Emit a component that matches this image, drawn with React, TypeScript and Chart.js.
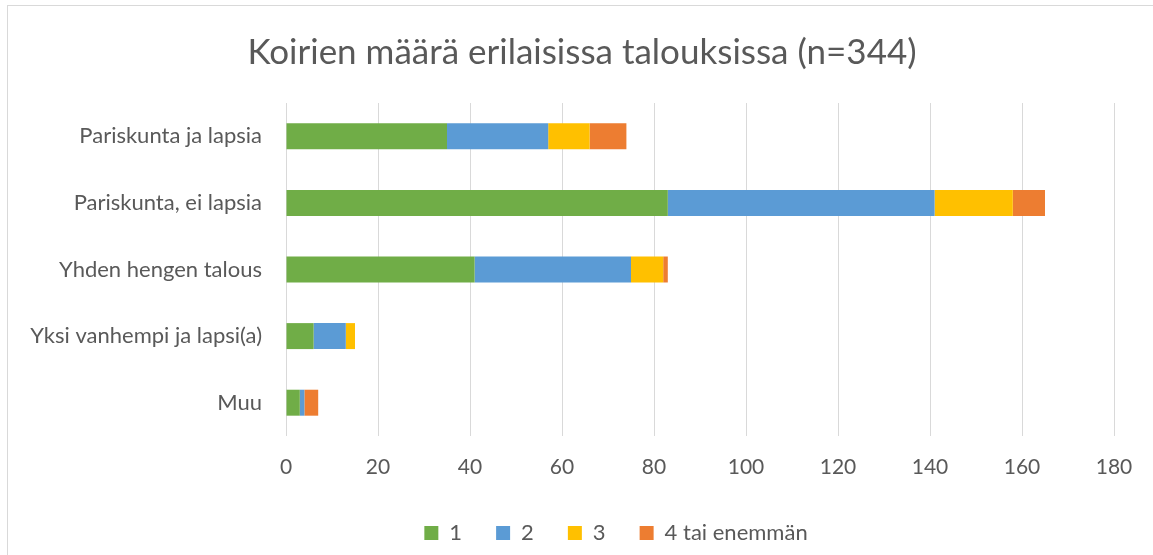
import React, { useEffect, useRef } from "react";
import { Chart, registerables } from "chart.js";

Chart.register(...registerables);

const categories = [
  "Pariskunta ja lapsia",
  "Pariskunta, ei lapsia",
  "Yhden hengen talous",
  "Yksi vanhempi ja lapsi(a)",
  "Muu",
];
const series1 = [35, 83, 41, 6, 3];
const series2 = [22, 58, 34, 7, 1];
const series3 = [9, 17, 7, 2, 0];
const series4 = [8, 7, 1, 0, 3];
const seriesNames = ["1", "2", "3", "4 tai enemmän"];
const seriesColors = ["#70AD47", "#5B9BD5", "#FFC000", "#ED7D31"];
const titleText = "Koirien määrä erilaisissa talouksissa (n=344)";

const FONT = "Lato, 'Open Sans', sans-serif";
const TEXT = "#595959";
const GRID = "#D9D9D9";

const boxShift = {
  id: "boxShift",
  afterLayout(chart: any) {
    const l = chart.legend;
    if (l) {
      l.left += 49;
      l.right += 49;
    }
    const t = chart.titleBlock;
    if (t) {
      t.left += 15;
      t.right += 15;
    }
  },
};

export default function App() {
  const ref = useRef<HTMLCanvasElement>(null);
  useEffect(() => {
    if (!ref.current) return;
    const data = [series1, series2, series3, series4];
    const chart = new Chart(ref.current, {
      type: "bar",
      data: {
        labels: categories,
        datasets: data.map((d, i) => ({
          label: seriesNames[i],
          data: d,
          backgroundColor: seriesColors[i],
          borderWidth: 0,
          barPercentage: 0.39,
          categoryPercentage: 1,
        })),
      },
      options: {
        indexAxis: "y",
        responsive: false,
        animation: false,
        layout: { padding: { left: 20, right: 39, top: 0, bottom: 1 } },
        scales: {
          x: {
            stacked: true,
            min: 0,
            max: 180,
            ticks: {
              stepSize: 20,
              color: TEXT,
              font: { family: FONT, size: 21 },
              padding: 19,
            },
            grid: { color: GRID, lineWidth: 1, drawTicks: false },
            border: { display: false },
            afterFit: (s: any) => {
              s.height = 52;
            },
          },
          y: {
            stacked: true,
            ticks: {
              color: TEXT,
              font: { family: FONT, size: 22 },
              padding: 24,
            },
            grid: { display: false, drawTicks: false },
            border: { display: false },
            afterFit: (s: any) => {
              s.width = 266;
            },
          },
        },
        plugins: {
          title: {
            display: true,
            text: titleText,
            color: TEXT,
            font: { family: FONT, size: 35, weight: "normal" },
            padding: { top: 32, bottom: 29 },
          },
          legend: {
            position: "bottom",
            labels: {
              color: TEXT,
              font: { family: FONT, size: 22 },
              boxWidth: 14,
              boxHeight: 14,
              padding: 34,
            },
          },
          tooltip: { enabled: false },
        },
      },
      plugins: [boxShift],
    });
    return () => chart.destroy();
  }, []);
  return (
    <>
      <div
        style={{
          position: "fixed",
          left: 7,
          top: 5,
          width: 1200,
          height: 600,
          borderLeft: "1px solid #D9D9D9",
          borderTop: "1px solid #D9D9D9",
        }}
      />
      <canvas
        ref={ref}
        width={1153}
        height={555}
        style={{ position: "fixed", left: 0, top: 0, width: 1153, height: 555 }}
      />
    </>
  );
}
